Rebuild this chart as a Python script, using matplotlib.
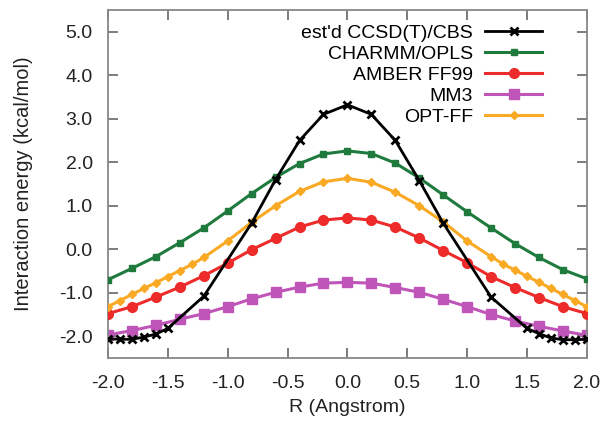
import matplotlib
matplotlib.use("Agg")
import matplotlib.pyplot as plt
import numpy as np

plt.rcParams['font.family'] = ['Liberation Sans', 'DejaVu Sans']

# grid of the force-field curves (0.2 step)
r_ff = np.round(np.arange(-2.0, 2.01, 0.2), 1)

charmm = [-0.70, -0.44, -0.17, 0.15, 0.49, 0.88, 1.28, 1.65, 1.97, 2.19, 2.26,
          2.20, 1.98, 1.64, 1.25, 0.86, 0.49, 0.13, -0.19, -0.47, -0.68]
amber = [-1.48, -1.32, -1.10, -0.87, -0.61, -0.32, -0.01, 0.25, 0.51, 0.67, 0.72,
         0.67, 0.51, 0.26, -0.03, -0.31, -0.63, -0.88, -1.11, -1.32, -1.48]
mm3 = [-1.97, -1.87, -1.75, -1.61, -1.48, -1.32, -1.14, -0.99, -0.87, -0.78, -0.76,
       -0.78, -0.88, -0.99, -1.15, -1.32, -1.50, -1.65, -1.77, -1.88, -1.98]

# OPT-FF is sampled more finely at both ends
r_opt = [-2.0, -1.9, -1.8, -1.7, -1.6, -1.5, -1.4, -1.3, -1.2,
         -1.0, -0.8, -0.6, -0.4, -0.2, 0.0, 0.2, 0.4, 0.6, 0.8, 1.0,
         1.2, 1.3, 1.4, 1.5, 1.6, 1.7, 1.8, 1.9, 2.0]
optff = [-1.32, -1.18, -1.04, -0.90, -0.77, -0.63, -0.49, -0.35, -0.19,
         0.19, 0.62, 1.00, 1.33, 1.55, 1.63, 1.54, 1.31, 1.00, 0.63, 0.19,
         -0.17, -0.34, -0.48, -0.62, -0.76, -0.90, -1.04, -1.18, -1.32]

r_cc = [-2.0, -1.9, -1.8, -1.7, -1.6, -1.5, -1.2, -0.8, -0.6, -0.4, -0.2, 0.0,
        0.2, 0.4, 0.6, 0.8, 1.2, 1.5, 1.6, 1.7, 1.8, 1.9, 2.0]
ccsd = [-2.06, -2.07, -2.07, -2.02, -1.95, -1.82, -1.08, 0.60, 1.60, 2.50, 3.10, 3.32,
        3.10, 2.50, 1.58, 0.60, -1.10, -1.82, -1.94, -2.04, -2.08, -2.08, -2.07]

fig = plt.figure(figsize=(6.05, 4.23), dpi=100)
ax = fig.add_axes([0.1785, 0.1537, 0.7915, 0.8227])

h_mm3, = ax.plot(r_ff, mm3, '-s', color='#bf55b8', lw=2.2, ms=6.5, label='MM3', zorder=2)
h_amb, = ax.plot(r_ff, amber, '-o', color='#ee2b2b', lw=2.2, ms=7, label='AMBER FF99', zorder=3)
h_opt, = ax.plot(r_opt, optff, '-D', color='#f9a923', lw=2.2, ms=4.5, label='OPT-FF', zorder=4)
h_ch, = ax.plot(r_ff, charmm, '-s', color='#1f7a3d', lw=2.2, ms=4.8, label='CHARMM/OPLS', zorder=5)
h_cc, = ax.plot(r_cc, ccsd, '-x', color='black', lw=2.0, ms=6, mew=2,
                label="est'd CCSD(T)/CBS", zorder=6)

ax.set_xlim(-2.0, 2.0)
ax.set_ylim(-2.5, 5.5)
ax.set_xticks(np.arange(-2.0, 2.01, 0.5))
ax.set_yticks(np.arange(-2.0, 5.01, 1.0))
ax.xaxis.set_major_formatter(matplotlib.ticker.FormatStrFormatter('%.1f'))
ax.yaxis.set_major_formatter(matplotlib.ticker.FormatStrFormatter('%.1f'))
ax.tick_params(direction='in', length=7, width=1.2, color='#666666',
               top=True, right=True, labelsize=14, labelcolor='#222222')
ax.tick_params(axis='x', pad=12)
ax.tick_params(axis='y', pad=11)
for s in ax.spines.values():
    s.set_color('#888888')
    s.set_linewidth(1.3)

ax.set_xlabel('R (Angstrom)', fontsize=14, color='#222222', labelpad=5)
ax.set_ylabel('Interaction energy (kcal/mol)', fontsize=14.5, color='#222222', labelpad=19)

ax.legend(handles=[h_cc, h_ch, h_amb, h_mm3, h_opt], loc='upper right',
          bbox_to_anchor=(0.906, 0.958), markerfirst=False, frameon=False,
          fontsize=14, handlelength=2.9, handletextpad=0.65, labelspacing=0.17,
          borderpad=0, borderaxespad=0, numpoints=1)

fig.savefig('out.png', dpi=100)
